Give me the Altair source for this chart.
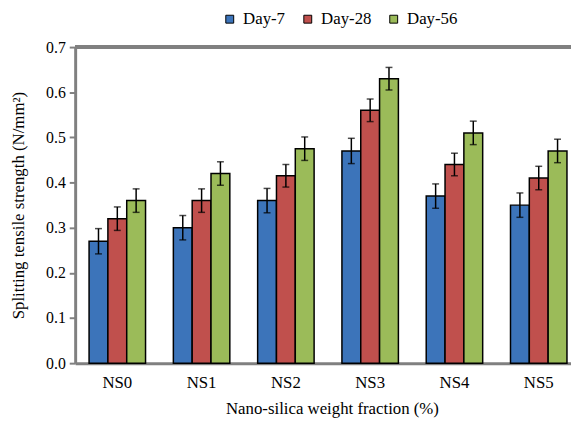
import altair as alt
import pandas as pd

groups = ["NS0", "NS1", "NS2", "NS3", "NS4", "NS5"]
series = ["Day-7", "Day-28", "Day-56"]
day7 = [0.27, 0.30, 0.36, 0.47, 0.37, 0.35]
day28 = [0.32, 0.36, 0.415, 0.56, 0.44, 0.41]
day56 = [0.36, 0.42, 0.475, 0.63, 0.51, 0.47]
err7 = [0.028, 0.027, 0.027, 0.028, 0.027, 0.027]
err28 = [0.026, 0.026, 0.025, 0.025, 0.025, 0.026]
err56 = [0.026, 0.026, 0.026, 0.025, 0.026, 0.026]
colors = ["#3C74BA", "#C0504D", "#9BBB59"]

rows = []
for s, vals, errs in zip(series, [day7, day28, day56], [err7, err28, err56]):
    for g, v, e in zip(groups, vals, errs):
        rows.append({"group": g, "series": s, "value": v, "lo": v - e, "hi": v + e})
df = pd.DataFrame(rows)

W, H = 502, 320
FONT = "'Liberation Serif', 'Times New Roman', serif"
GRAY = "#808080"

x = alt.X(
    "group:N",
    sort=groups,
    scale=alt.Scale(range=[0, 512], paddingInner=0.33, paddingOuter=0.165),
    axis=alt.Axis(
        title="Nano-silica weight fraction (%)",
        labelAngle=0,
        ticks=False,
        labelPadding=12,
        labelFontSize=17,
        labelFont=FONT,
        labelColor="#000000",
        domainColor=GRAY,
        domainWidth=3,
        titleFont=FONT,
        titleFontSize=17,
        titleFontWeight="normal",
        titleColor="#000000",
        titleX=260,
        titleY=38,
        titleAlign="center",
    ),
)
xo = alt.XOffset("series:N", sort=series)

base = alt.Chart(df)

bars = base.mark_bar(stroke="black", strokeWidth=1.5).encode(
    x=x,
    xOffset=xo,
    y=alt.Y(
        "value:Q",
        scale=alt.Scale(domain=[0, 0.7], nice=False),
        axis=alt.Axis(
            title="Splitting tensile strength (N/mm²)",
            values=[0, 0.1, 0.2, 0.3, 0.4, 0.5, 0.6, 0.7],
            format=".1f",
            grid=False,
            tickSize=6,
            tickWidth=2,
            tickColor=GRAY,
            domainColor=GRAY,
            domainWidth=3,
            labelPadding=4,
            labelFont=FONT,
            labelFontSize=16,
            labelColor="#000000",
            titleFont=FONT,
            titleFontSize=17,
            titleFontWeight="normal",
            titleColor="#000000",
            titleX=-57,
            titleY=H / 2,
            titleAngle=-90,
            titleAlign="center",
            titleBaseline="middle",
        ),
    ),
    color=alt.Color(
        "series:N",
        sort=series,
        scale=alt.Scale(domain=series, range=colors),
        legend=alt.Legend(
            title=None,
            orient="none",
            direction="horizontal",
            legendX=148,
            legendY=-37,
            symbolType="square",
            symbolSize=64,
            symbolStrokeColor="black",
            symbolStrokeWidth=1,
            symbolOpacity=1,
            labelFont=FONT,
            labelFontSize=17,
            labelColor="#000000",
            labelOffset=5,
            columnPadding=14,
        ),
    ),
)

err = base.mark_rule(color="black", strokeWidth=1.5).encode(
    x=x, xOffset=xo, y="lo:Q", y2="hi:Q"
)
cap_hi = base.mark_tick(color="black", thickness=1.5, size=7).encode(
    x=x, xOffset=xo, y="hi:Q"
)
cap_lo = base.mark_tick(color="black", thickness=1.5, size=7).encode(
    x=x, xOffset=xo, y="lo:Q"
)
top = base.mark_rule(color=GRAY, strokeWidth=3).encode(
    x=alt.value(0), x2=alt.value(512), y=alt.value(0)
)

chart = (
    alt.layer(bars, err, cap_hi, cap_lo, top)
    .properties(
        width=W,
        height=H,
        autosize=alt.AutoSizeParams(type="none"),
        padding={"left": 68, "top": 37, "right": 0, "bottom": 58},
    )
    .configure_view(stroke=None)
    .configure(background="white", font=FONT)
)

chart.save("out.html", embed_options={"renderer": "svg", "actions": False})
